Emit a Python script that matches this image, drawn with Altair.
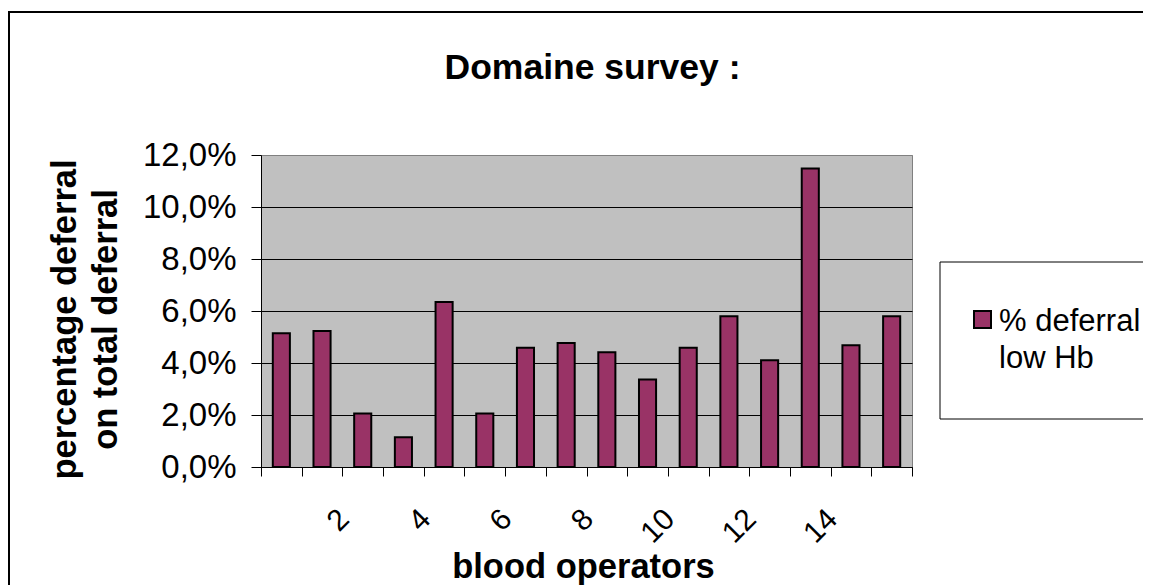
import altair as alt
import pandas as pd

# ---- data ----
OPERATORS = [1, 2, 3, 4, 5, 6, 7, 8, 9, 10, 11, 12, 13, 14, 15, 16]
VALUES = [0.0514, 0.0523, 0.0206, 0.0114, 0.0635, 0.0206, 0.0459, 0.0477,
          0.0441, 0.0337, 0.0459, 0.0580, 0.0411, 0.1148, 0.0468, 0.0580]
TICK_LABELS = ["", "2", "", "4", "", "6", "", "8", "", "10", "", "12", "", "14", "", ""]
Y_TICKS = [0.0, 0.02, 0.04, 0.06, 0.08, 0.10, 0.12]
SERIES = "% deferral low Hb"
LEGEND_LINES = ["% deferral", "low Hb"]
TITLE = "Domaine survey :"
Y_TITLE = ["percentage deferral", "on total deferral"]
X_TITLE = "blood operators"

FONT = "Liberation Sans"
BAR_COLOR = "#993366"
PLOT_W, PLOT_H = 651, 312

df = pd.DataFrame({"operator": OPERATORS, "value": VALUES, "series": [SERIES] * len(OPERATORS)})

tick_expr = "[" + ",".join("'" + t + "'" for t in TICK_LABELS) + "][datum.value - 1]"
legend_expr = "[" + ",".join("'" + t + "'" for t in LEGEND_LINES) + "]"

frame = alt.Chart(alt.Data(values=[{}])).mark_rect(
    fillOpacity=0, stroke="black", strokeWidth=2
).encode(x=alt.value(-252), x2=alt.value(1000), y=alt.value(-143), y2=alt.value(1000))

legend_box = alt.Chart(alt.Data(values=[{}])).mark_rect(
    fillOpacity=0, stroke="black", strokeWidth=1
).encode(x=alt.value(679), x2=alt.value(1000), y=alt.value(107), y2=alt.value(264))

bars = alt.Chart(df).mark_bar(
    width=alt.RelativeBandSize(0.42), stroke="black", strokeWidth=2
).encode(
    x=alt.X(
        "operator:O",
        scale=alt.Scale(paddingInner=0, paddingOuter=0),
        axis=alt.Axis(
            title=X_TITLE, titleFont=FONT, titleFontSize=34.5, titleFontWeight="bold",
            titleColor="black", titleX=322, titleY=110, titleBaseline="alphabetic",
            titleAlign="center",
            labelExpr=tick_expr, labelAngle=-45, labelAlign="right", labelBaseline="middle",
            labelOffset=22, labelPadding=38, labelFont=FONT, labelFontSize=30,
            labelColor="black", labelOverlap=False, labelFlush=False,
            tickBand="extent", tickSize=9, tickColor="black", domainColor="black",
            grid=False,
        ),
    ),
    y=alt.Y(
        "value:Q",
        scale=alt.Scale(domain=[0, 0.12], nice=False),
        axis=alt.Axis(
            values=Y_TICKS,
            labelExpr="replace(format(datum.value, '.1%'), '.', ',')",
            labelFont=FONT, labelFontSize=33, labelColor="black", labelPadding=15,
            tickSize=10, tickColor="black", domainColor="black",
            gridColor={"condition": {"test": "datum.value >= 0.12", "value": "#808080"}, "value": "black"},
            title=Y_TITLE, titleFont=FONT, titleFontSize=34.5, titleFontWeight="bold",
            titleColor="black", titleX=-186, titleY=164, titleAngle=-90,
            titleBaseline="alphabetic", titleAlign="center", titleLineHeight=41,
        ),
    ),
    color=alt.Color(
        "series:N",
        scale=alt.Scale(domain=[SERIES], range=[BAR_COLOR]),
        legend=alt.Legend(
            title=None, orient="none", legendX=706, legendY=160,
            labelExpr=legend_expr, labelFont=FONT, labelFontSize=31, labelColor="black",
            labelBaseline="alphabetic", labelLimit=400, labelOffset=1,
            symbolType="M-1,-2.29H1V-0.29H-1Z", symbolSize=289,
            symbolStrokeColor="black", symbolStrokeWidth=2, padding=0,
        ),
    ),
)

chart = alt.layer(frame, legend_box, bars).properties(
    width=PLOT_W,
    height=PLOT_H,
    title=alt.TitleParams(TITLE, font=FONT, fontSize=35.5, fontWeight="bold", color="black",
                          anchor="middle", frame="group", baseline="alphabetic", offset=0,
                          dy=103, dx=6),
    autosize=alt.AutoSizeParams(type="none"),
    padding={"left": 253, "top": 147, "right": 231, "bottom": 118},
).configure(
    background="white",
    view=alt.ViewConfig(fill="#C0C0C0", stroke="#808080", strokeWidth=1),
    style={"guide-label": {"lineHeight": 37}},
)

chart.save("out.html", embed_options={"renderer": "svg", "actions": False})
